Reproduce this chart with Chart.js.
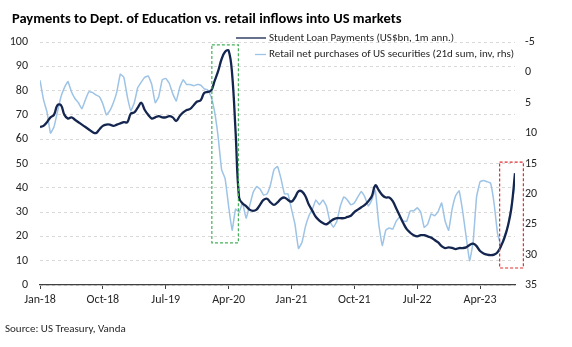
<!DOCTYPE html>
<html>
<head>
<meta charset="utf-8">
<script src="https://cdn.jsdelivr.net/npm/chart.js@4.4.0/dist/chart.umd.min.js"></script>
<style>
  html, body { margin: 0; padding: 0; background: #fff; }
  #grafico { width: 572px; height: 347px; }
</style>
</head>
<body>
<div id="grafico"><canvas id="lienzo" width="572" height="347"></canvas></div>
<script>
// Meses desde ene-2018, dos puntos por mes
const meses = Array.from({ length: 137 }, (_, i) => i / 2)

// Etiquetas del eje x, una cada 9 meses
const etiquetasMeses = ['Jan-18', 'Oct-18', 'Jul-19', 'Apr-20', 'Jan-21', 'Oct-21', 'Jul-22', 'Apr-23']

// Pagos de préstamos estudiantiles (US$bn, 1m anualizado) - eje izquierdo
const pagosPrestamos = [
  65, 65.5, 67, 69, 70, 74, 74, 70, 68.5, 69,
  68, 67, 66, 65, 64, 63, 62.5, 64, 65.5, 66,
  66, 65.5, 66, 66.5, 67, 67, 70.5, 71, 73, 75,
  72, 70, 68.5, 69, 69.5, 69, 69, 69.5, 69, 67.5,
  69.5, 71, 72, 72.5, 74, 75.5, 76, 79, 79.5, 80,
  84, 88, 93, 96, 96.5, 87, 63, 36, 33.5, 32.5,
  31, 30.5, 31, 33, 35, 35.5, 34, 33, 34, 35.5,
  36, 35, 34.3, 36, 38.5, 38.5, 36.5, 33, 30.5, 28,
  26.5, 25.5, 25, 26, 27, 27.5, 27.5, 27.5, 28, 28.5,
  30, 31, 32, 33, 34.5, 36.5, 41, 39, 37, 36,
  36, 34.5, 31.5, 28.5, 25.5, 23, 21.5, 20.5, 20, 20.5,
  20.5, 20, 19.5, 18.5, 17.5, 16, 15.2, 15.5, 15.3, 14.8,
  15.2, 15.2, 15.5, 16.5, 17, 16, 14, 13, 12.5, 12.3,
  12.5, 13.5, 16, 19.5, 24.5, 32, 46
]

// Compras netas minoristas de valores de EE.UU. (suma 21d, invertido) - eje derecho
const comprasMinoristas = [
  1.3, 4.5, 6.5, 10, 9, 6.5, 4, 2.5, 1.5, 3.2,
  4.3, 5, 6, 4.5, 3.2, 3.3, 3.7, 4, 5.2, 7,
  6.3, 5, 3.2, 0.3, 0.8, 4, 6.3, 5, 2.5, 1.6,
  0.8, 0.6, 2, 5, 4, 1.2, 1, 1.8, 3.5, 4.7,
  2.5, 1.2, 2, 2, 2.2, 2, 2.1, 2.7, 2.9, 4,
  6.5, 10.6, 16, 17.5, 22, 26, 22.5, 23, 21.5, 24,
  22, 19.8, 18.8, 19.2, 20.2, 20, 18.5, 16, 15.5, 17.5,
  20, 20, 22.5, 25, 29, 28, 25.4, 23.6, 22.5, 21,
  21.8, 21, 22, 24.5, 25.5, 24.5, 22, 20.5, 21, 21.8,
  21.5, 20.5, 19.6, 20.5, 22, 21, 19.4, 25, 28.5, 26,
  25.6, 25.8, 24.5, 23.8, 24.5, 24.5, 22.8, 22.8, 22.3, 23,
  25.5, 25, 23.3, 23.6, 22.9, 21.5, 24.5, 26, 22.5, 20.3,
  19.5, 22.8, 27, 31, 28, 20.5, 18, 17.8, 18, 18.2,
  21.5, 26.5, 28.5, 26.8, 25.3, 21.8, 18.5
]

// Recuadros punteados (en meses y valores del eje izquierdo)
const recuadros = [
  { desde: 24.6, hasta: 28.4, min: 17.3, max: 98.8, color: 'rgb(70,176,90)' },
  { desde: 65.8, hasta: 69.2, min: 7, max: 50.6, color: 'rgb(226,44,44)' }
]

const fuente = "Carlito, Lato, 'Liberation Sans', sans-serif"
const colorTexto = '#262626'

// Titulo, fuente y leyenda dibujados a mano
const textosPlugin = {
  id: 'textos',
  afterDraw(chart) {
    const ctx = chart.ctx
    ctx.save()
    ctx.fillStyle = '#000'
    ctx.textBaseline = 'middle'
    ctx.font = 'bold 14.5px ' + fuente
    ctx.fillText('Payments to Dept. of Education vs. retail inflows into US markets', 12, 19)
    ctx.fillStyle = colorTexto
    ctx.font = '11px ' + fuente
    ctx.fillText('Source: US Treasury, Vanda', 5, 329)

    // Leyenda
    const inicios = [236, 255]
    chart.data.datasets.forEach((ds, i) => {
      const yy = 38 + i * 16.5
      ctx.strokeStyle = ds.borderColor
      ctx.lineWidth = 1.3
      ctx.beginPath()
      ctx.moveTo(inicios[i], yy)
      ctx.lineTo(266, yy)
      ctx.stroke()
      ctx.fillText(ds.label, 269, yy)
    })
    ctx.restore()
  }
}

const recuadrosPlugin = {
  id: 'recuadros',
  afterDatasetsDraw(chart) {
    const { ctx, scales: { x, y } } = chart
    ctx.save()
    ctx.lineWidth = 1.2
    ctx.setLineDash([3, 2])
    recuadros.forEach(r => {
      const x1 = x.getPixelForValue(r.desde)
      const x2 = x.getPixelForValue(r.hasta)
      const y1 = y.getPixelForValue(r.max)
      const y2 = y.getPixelForValue(r.min)
      ctx.strokeStyle = r.color
      ctx.strokeRect(x1, y1, x2 - x1, y2 - y1)
    })
    ctx.restore()
  }
}

new Chart(document.getElementById('lienzo'), {
  type: 'line',
  data: {
    labels: meses,
    datasets: [
      {
        label: 'Student Loan Payments (US$bn, 1m ann.)',
        data: pagosPrestamos,
        borderColor: '#14264f',
        borderWidth: 2.3,
        pointRadius: 0,
        tension: 0.4,
        yAxisID: 'y'
      },
      {
        label: 'Retail net purchases of US securities (21d sum, inv, rhs)',
        data: comprasMinoristas,
        borderColor: '#9dc3e6',
        borderWidth: 1.5,
        pointRadius: 0,
        tension: 0.1,
        yAxisID: 'y1'
      }
    ]
  },
  options: {
    responsive: false,
    animation: false,
    devicePixelRatio: 1,
    layout: { padding: { top: 42, right: 0, bottom: 0, left: 0 } },
    plugins: {
      legend: { display: false },
      tooltip: { enabled: false }
    },
    scales: {
      x: {
        type: 'linear',
        min: 0,
        max: 68,
        afterFit: eje => { eje.height = 62 },
        grid: { drawOnChartArea: false, drawTicks: true, tickLength: 4, color: '#404040' },
        border: { display: true, color: '#404040', width: 1.2 },
        ticks: {
          stepSize: 9,
          includeBounds: false,
          autoSkip: false,
          maxRotation: 0,
          padding: 4,
          color: colorTexto,
          font: { family: fuente, size: 12 },
          callback: v => etiquetasMeses[v / 9]
        }
      },
      y: {
        position: 'left',
        min: 0,
        max: 100,
        afterFit: eje => { eje.width = 40 },
        grid: { color: '#d9d9d9', drawTicks: false },
        border: { display: false, dash: [3, 3] },
        ticks: {
          stepSize: 10,
          padding: 12,
          color: colorTexto,
          font: { family: fuente, size: 12 }
        }
      },
      y1: {
        position: 'right',
        reverse: true,
        min: -5,
        max: 35,
        afterFit: eje => { eje.width = 57 },
        grid: { display: false, drawTicks: false },
        border: { display: false },
        ticks: {
          stepSize: 5,
          padding: 10,
          color: colorTexto,
          font: { family: fuente, size: 12 }
        }
      }
    }
  },
  plugins: [recuadrosPlugin, textosPlugin]
})
</script>
</body>
</html>
